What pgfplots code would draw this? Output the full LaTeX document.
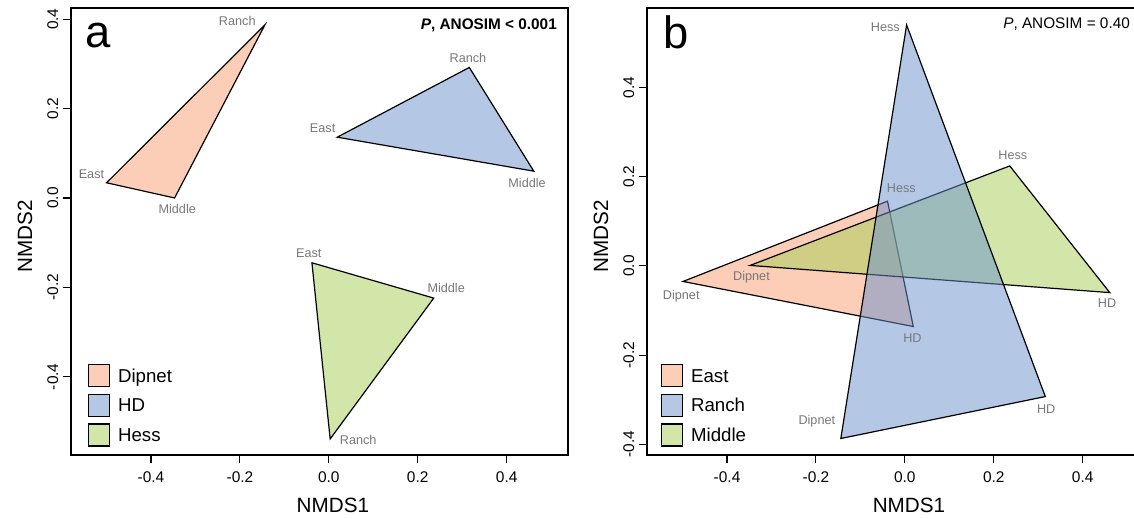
\documentclass[border=0pt]{standalone}
\usepackage{pgfplots}
\pgfplotsset{compat=1.18}
\usepackage{fontspec}
\setmainfont{Liberation Sans}
\definecolor{orF}{RGB}{249,155,111}
\definecolor{blF}{RGB}{105,145,205}
\definecolor{grF}{RGB}{165,205,85}
\definecolor{lab}{RGB}{120,120,120}
\tikzset{
  poly/.style={draw=black, fill=#1, fill opacity=0.5, line width=0.9pt, line join=miter},
  vlab/.style={text=lab, font=\fontsize{9.5}{11}\selectfont, inner sep=0pt, anchor=center},
}
\pgfplotsset{
  nmds/.style={
    scale only axis, width=372.75pt, height=335.25pt,
    xmin=-0.58, xmax=0.538,
    tick pos=left, tick align=outside, major tick length=6pt,
    xtick={-0.4,-0.2,0,0.2,0.4}, xticklabels={-0.4,-0.2,0.0,0.2,0.4},
    ytick={-0.4,-0.2,0,0.2,0.4}, yticklabels={-0.4,-0.2,0.0,0.2,0.4},
    ticklabel style={font=\fontsize{11.6}{13}\selectfont},
    xticklabel style={yshift=-3pt},
    yticklabel style={rotate=90, anchor=south},
    axis line style={line width=1.3pt},
    tick style={line width=0.8pt, black},
    xlabel={NMDS1}, ylabel={NMDS2},
    label style={font=\fontsize{15.5}{18}\selectfont},
    xlabel style={at={(axis description cs:0.527,-0.113)}, anchor=center},
    ylabel style={at={(axis description cs:-0.0926,0.49)}, anchor=center},
    no markers,
    legend image code/.code={\draw[#1, line width=0.9pt] (0pt,-8.25pt) rectangle (15.75pt,8.25pt);},
    legend cell align=left,
    legend style={anchor=north west, draw=none, fill=none, inner sep=0pt, outer sep=0pt,
      row sep=4.9pt, column sep=6pt,
      nodes={inner sep=0pt, text height=10pt, text depth=0pt, font=\fontsize{14}{16}\selectfont}},
  },
}
\begin{document}
\begin{tikzpicture}
\useasboundingbox (0,0) rectangle (850.5pt,388.5pt);
% ---------------- panel a ----------------
\begin{axis}[nmds, at={(53.25pt,47.25pt)}, anchor=south west,
  ymin=-0.575, ymax=0.425,
  legend style={at={(rel axis cs:0.034,0.2036)}}]
\addplot[poly=orF] coordinates {(-0.500,0.034) (-0.347,0.000) (-0.144,0.387)} -- cycle;
\addlegendentry{Dipnet}
\addplot[poly=blF] coordinates {(0.019,0.136) (0.316,0.292) (0.461,0.060)} -- cycle;
\addlegendentry{HD}
\addplot[poly=grF] coordinates {(-0.038,-0.145) (0.236,-0.224) (0.003,-0.539)} -- cycle;
\addlegendentry{Hess}
\node[vlab] at (axis cs:-0.206,0.3955) {Ranch};
\node[vlab] at (axis cs:-0.534,0.053) {East};
\node[vlab] at (axis cs:-0.341,-0.0235) {Middle};
\node[vlab] at (axis cs:-0.014,0.157) {East};
\node[vlab] at (axis cs:0.313,0.314) {Ranch};
\node[vlab] at (axis cs:0.446,0.034) {Middle};
\node[vlab] at (axis cs:-0.045,-0.124) {East};
\node[vlab] at (axis cs:0.264,-0.2005) {Middle};
\node[vlab] at (axis cs:0.066,-0.541) {Ranch};
\node[anchor=base west, inner sep=0pt, font=\fontsize{34}{40}\selectfont] at (rel axis cs:0.028,0.9105) {a};
\node[anchor=base east, inner sep=0pt, font=\bfseries\fontsize{11.5}{14}\selectfont] at (rel axis cs:0.978,0.953) {\textit{P}, ANOSIM < 0.001};
\end{axis}
% ---------------- panel b ----------------
\begin{axis}[nmds, at={(485.25pt,47.25pt)}, anchor=south west,
  ymin=-0.424, ymax=0.578,
  legend style={at={(rel axis cs:0.028,0.2036)}}]
\addlegendimage{poly=orF}\addlegendentry{East}
\addlegendimage{poly=blF}\addlegendentry{Ranch}
\addlegendimage{poly=grF}\addlegendentry{Middle}
\addplot[poly=orF, forget plot] coordinates {(-0.499,-0.035) (-0.039,0.145) (0.019,-0.136)} -- cycle;
\addplot[poly=grF, forget plot] coordinates {(-0.348,0.001) (0.236,0.224) (0.461,-0.060)} -- cycle;
\addplot[poly=blF, forget plot] coordinates {(0.004,0.540) (0.316,-0.293) (-0.144,-0.387)} -- cycle;
\node[vlab] at (axis cs:-0.503,-0.069) {Dipnet};
\node[vlab] at (axis cs:-0.008,0.175) {Hess};
\node[vlab] at (axis cs:0.017,-0.161) {HD};
\node[vlab] at (axis cs:-0.044,0.5355) {Hess};
\node[vlab] at (axis cs:0.318,-0.321) {HD};
\node[vlab] at (axis cs:-0.198,-0.348) {Dipnet};
\node[vlab] at (axis cs:-0.345,-0.025) {Dipnet};
\node[vlab] at (axis cs:0.243,0.248) {Hess};
\node[vlab] at (axis cs:0.455,-0.0825) {HD};
\node[anchor=base west, inner sep=0pt, font=\fontsize{34}{40}\selectfont] at (rel axis cs:0.032,0.9105) {b};
\node[anchor=base east, inner sep=0pt, font=\fontsize{11.5}{14}\selectfont] at (rel axis cs:0.972,0.955) {\textit{P}, ANOSIM = 0.40};
\end{axis}
\end{tikzpicture}
\end{document}
